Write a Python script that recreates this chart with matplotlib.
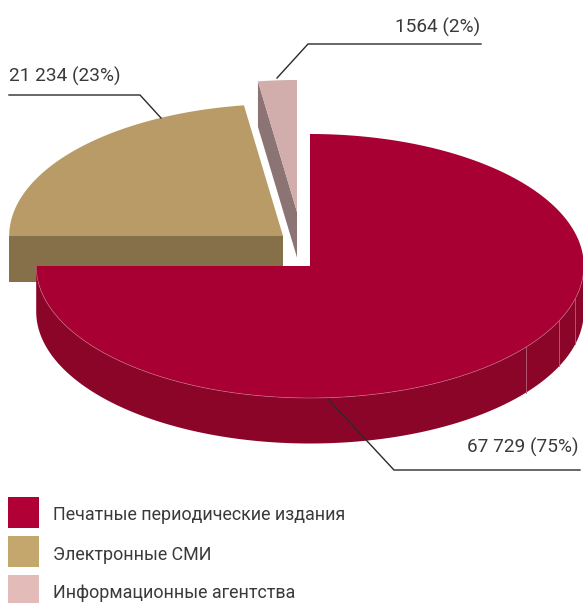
import numpy as np
import matplotlib
matplotlib.use("Agg")
import matplotlib.pyplot as plt
from matplotlib.patches import Rectangle

# Data
categories = ["Печатные периодические издания", "Электронные СМИ", "Информационные агентства"]
values = [67729, 21234, 1564]
percents = [75, 23, 2]
value_labels = ["67 729 (75%)", "21 234 (23%)", "1564 (2%)"]

# Style
face_colors = ["#A80033", "#B89B66", "#D1ADAC"]
side_colors = ["#8B0529", "#85704A", "#8C7475"]
legend_colors = ["#B10036", "#C4A76C", "#E3BBB9"]
text_color = "#3A3A3A"
line_color = "#2A2A2A"
FONT = ["Roboto", "DejaVu Sans"]
FS_LEGEND = 12.9
FS_VALUE = 13.7

W, H = 583, 603
fig = plt.figure(figsize=(W / 100, H / 100), dpi=100)
ax = fig.add_axes([0, 0, 1, 1])
ax.set_xlim(0, W)
ax.set_ylim(H, 0)
ax.axis("off")

# Pie geometry (layout)
RX, RY, DEPTH = 273.8, 132, 45.5
centers = [(310, 266), (283, 236), (297, 212)]
sweep_trim = [0, -1.0, 1.0]  # slight perspective correction of drawn sweep, degrees


def arc(cx, cy, a0, a1, n=240):
    t = np.radians(np.linspace(a0, a1, n))
    return cx + RX * np.cos(t), cy - RY * np.sin(t)


# Angles from the shares, clockwise from 12 o'clock
sweeps = [p / sum(percents) * 360 + d for p, d in zip(percents, sweep_trim)]
starts = [90.0]
for s in sweeps[:-1]:
    starts.append((starts[-1] - s) % 360)
ends = [st - s for st, s in zip(starts, sweeps)]

# Pink slice (rear)
cx, cy = centers[2]
xa, ya = arc(cx, cy, starts[2], ends[2])
xe, ye = xa[0], ya[0]
ax.fill([xe, cx, cx, xe], [ye, cy, cy + DEPTH, ye + DEPTH], color=side_colors[2], lw=0, zorder=1)
ax.fill(np.r_[cx, xa], np.r_[cy, ya], color=face_colors[2], lw=0, zorder=2)

# Tan slice
cx, cy = centers[1]
xa, ya = arc(cx, cy, starts[1], ends[1])
ax.fill(np.r_[cx, xa], np.r_[cy, ya], color=face_colors[1], lw=0, zorder=3)
x0 = cx - RX
ax.fill([x0, cx, cx, x0], [cy, cy, cy + DEPTH, cy + DEPTH], color=side_colors[1], lw=0, zorder=3)

# Red slice
cx, cy = centers[0]
xs, ys = arc(cx, cy, 180, 360)
ax.fill(np.r_[xs, xs[::-1]], np.r_[ys, ys[::-1] + DEPTH], color=side_colors[0], lw=0, zorder=4)
xa, ya = arc(cx, cy, starts[0], ends[0], 500)
ax.fill(np.r_[cx, xa], np.r_[cy, ya], color=face_colors[0], lw=0, zorder=5)
ax.plot(xs, ys, color="#C9708A", lw=0.5, alpha=0.8, zorder=6)
for seam in [-37.9, -24.5, -14.3]:
    sx, sy = arc(cx, cy, seam, seam, 2)
    ax.plot(sx, [sy[0], sy[0] + DEPTH], color="#B5607A", lw=0.6, zorder=6)

# Leaders and value labels
leaders = [
    ([328, 394, 580], [399, 470, 470]),
    ([161, 140, 9], [118, 95, 95]),
    ([277, 308, 481], [78, 44, 44]),
]
label_pos = [(579, 453, "right"), (9, 82, "left"), (480, 33, "right")]
for (lx, ly), (tx, ty, ha), lab in zip(leaders, label_pos, value_labels):
    ax.plot(lx, ly, color=line_color, lw=1.0, zorder=7, solid_joinstyle="miter")
    ax.text(tx, ty, lab, ha=ha, va="baseline", color=text_color, fontsize=FS_VALUE, family=FONT, zorder=8)

# Legend
leg_y = [497, 536, 575]
leg_h = [31, 31, 28]
for y, h, c, name in zip(leg_y, leg_h, legend_colors, categories):
    ax.add_patch(Rectangle((8, y), 31, h, facecolor=c, edgecolor="none", zorder=3))
    ax.text(53, y + 23.5, name, ha="left", va="baseline", color=text_color, fontsize=FS_LEGEND, family=FONT)

fig.savefig("out.png", dpi=100)
